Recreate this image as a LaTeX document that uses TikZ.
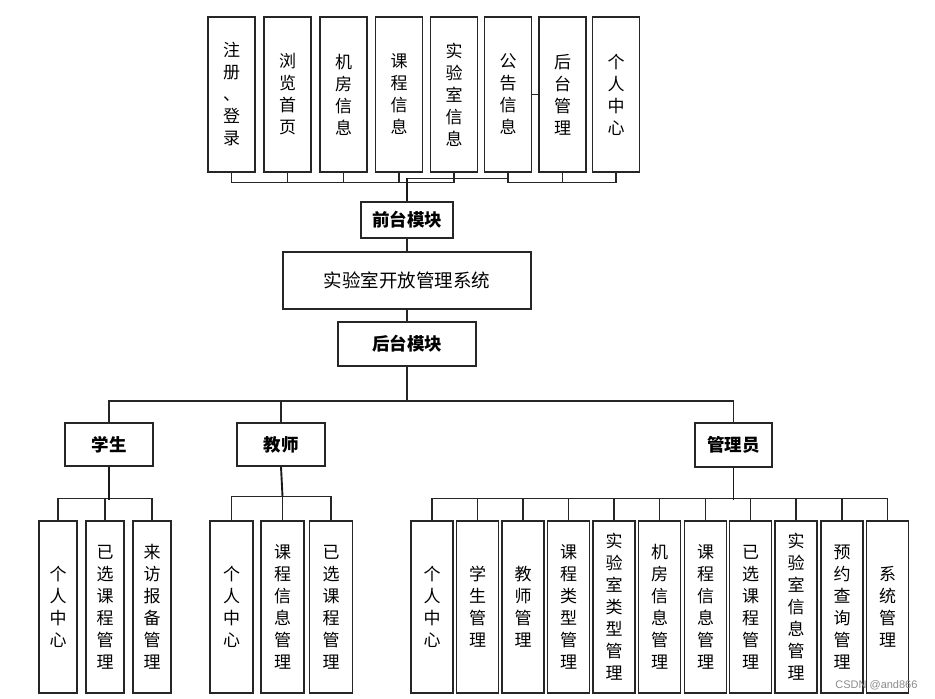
\documentclass[tikz,border=0pt]{standalone}
\usepackage{fontspec}
\setmainfont{Noto Sans CJK SC}
\newfontfamily\wmfont{Liberation Sans}
\begin{document}
\begin{tikzpicture}[x=1pt,y=-1pt,
  box/.style={draw=black!85,line width=1.3pt,fill=white,inner sep=0pt,align=center,
    font=\fontsize{17}{22}\selectfont},
  topbox/.style={box,minimum width=47pt,minimum height=155pt},
  botbox/.style={box,minimum height=172pt},
  lbl/.style={box,font=\fontsize{17.5}{20}\selectfont\bfseries},
  conn/.style={line width=1.1pt,black!85},
  thickconn/.style={line width=1.9pt,black!90}]
\useasboundingbox (0,0) rectangle (935,699);
\fill[white] (0,0) rectangle (935,699);
% top row
\node[topbox] (f1) at (231.5,94.5) {注\\册\\、\\登\\录};
\node[topbox] (f2) at (287.5,94.5) {浏\\览\\首\\页};
\node[topbox] (f3) at (343.5,94.5) {机\\房\\信\\息};
\node[topbox] (f4) at (399,94.5) {课\\程\\信\\息};
\node[topbox] (f5) at (454,94.5) {实\\验\\室\\信\\息};
\node[topbox] (f6) at (508,94.5) {公\\告\\信\\息};
\node[topbox] (f7) at (562.5,94.5) {后\\台\\管\\理};
\node[topbox] (f8) at (616,94.5) {个\\人\\中\\心};
% middle
\node[lbl,minimum width=92pt,minimum height=36pt] (qt) at (407,220) {前台模块};
\node[box,minimum width=248pt,minimum height=57pt,font=\fontsize{18.5}{20}\selectfont] (sys) at (407,280.5) {实验室开放管理系统};
\node[lbl,minimum width=138pt,minimum height=44pt] (ht) at (407,344) {后台模块};
% roles
\node[lbl,minimum width=88pt,minimum height=43pt] (stu) at (109,444.5) {学生};
\node[lbl,minimum width=88pt,minimum height=43pt] (tea) at (281,444.5) {教师};
\node[lbl,minimum width=77pt,minimum height=44pt] (adm) at (733.5,445) {管理员};
% student children
\node[botbox,minimum width=38pt] (s1) at (58,607) {个\\人\\中\\心};
\node[botbox,minimum width=38pt] (s2) at (105,607) {已\\选\\课\\程\\管\\理};
\node[botbox,minimum width=38pt] (s3) at (152,607) {来\\访\\报\\备\\管\\理};
% teacher children
\node[botbox,minimum width=43pt] (j1) at (231.5,607) {个\\人\\中\\心};
\node[botbox,minimum width=43pt] (j2) at (282.5,607) {课\\程\\信\\息\\管\\理};
\node[botbox,minimum width=43pt] (j3) at (331,607) {已\\选\\课\\程\\管\\理};
% admin children
\node[botbox,minimum width=42pt] (a1) at (432,607) {个\\人\\中\\心};
\node[botbox,minimum width=42pt] (a2) at (477.5,607) {学\\生\\管\\理};
\node[botbox,minimum width=42pt] (a3) at (523,607) {教\\师\\管\\理};
\node[botbox,minimum width=42pt] (a4) at (568.5,607) {课\\程\\类\\型\\管\\理};
\node[botbox,minimum width=42pt] (a5) at (614,607) {实\\验\\室\\类\\型\\管\\理};
\node[botbox,minimum width=42pt] (a6) at (659.5,607) {机\\房\\信\\息\\管\\理};
\node[botbox,minimum width=42pt] (a7) at (705.5,607) {课\\程\\信\\息\\管\\理};
\node[botbox,minimum width=42pt] (a8) at (750.5,607) {已\\选\\课\\程\\管\\理};
\node[botbox,minimum width=42pt] (a9) at (796,607) {实\\验\\室\\信\\息\\管\\理};
\node[botbox,minimum width=42pt] (a10) at (842,607) {预\\约\\查\\询\\管\\理};
\node[botbox,minimum width=42pt] (a11) at (887.5,607) {系\\统\\管\\理};
% top connectors
\draw[conn] (f1.south) -- ++(0,10) -| (f5.south);
\foreach \n in {f2,f3,f4} \draw[conn] (\n.south) -- ++(0,10);
\draw[conn] (f6.south) -- ++(0,10) -| (f8.south);
\draw[conn] (f7.south) -- ++(0,10);
\draw[conn] (f6.east) -- (f7.west);
\draw[conn] (qt.north) -- ++(0,-23) -| (f6.south);
\draw[thickconn] (qt.north) -- ++(0,-23);
% main chain
\draw[conn] (qt.south) -- (sys.north);
\draw[conn] (sys.south) -- (ht.north);
\coordinate (b2) at (407,401);
\draw[conn] (ht.south) -- (b2);
\draw[conn] (stu.north) |- (b2) -| (adm.north);
\draw[conn] (tea.north) -- (tea.north |- b2);
% student
\draw[conn] (s1.north) -- ++(0,-22) -| (s3.north);
\draw[conn] (s2.north) -- ++(0,-22);
\draw[thickconn] (stu.south) -- ++(0,33);
% teacher
\draw[conn] (j1.north) -- ++(0,-24) -| (j3.north);
\draw[conn] (j2.north) -- ++(0,-24) coordinate (jb);
\draw[thickconn] (tea.south) -- (jb);
% admin
\draw[conn] (a1.north) -- ++(0,-22) -| (a11.north);
\foreach \n in {a2,a3,a4,a5,a6,a7,a8,a9,a10} \draw[conn] (\n.north) -- ++(0,-22);
\draw[thickconn] (adm.south) -- ++(0,32);
% watermark
\node[text=black!45,font=\wmfont\fontsize{11}{13}\selectfont,anchor=east] (wm) at (921,685) {CSDN @and866};
\end{tikzpicture}
\end{document}
